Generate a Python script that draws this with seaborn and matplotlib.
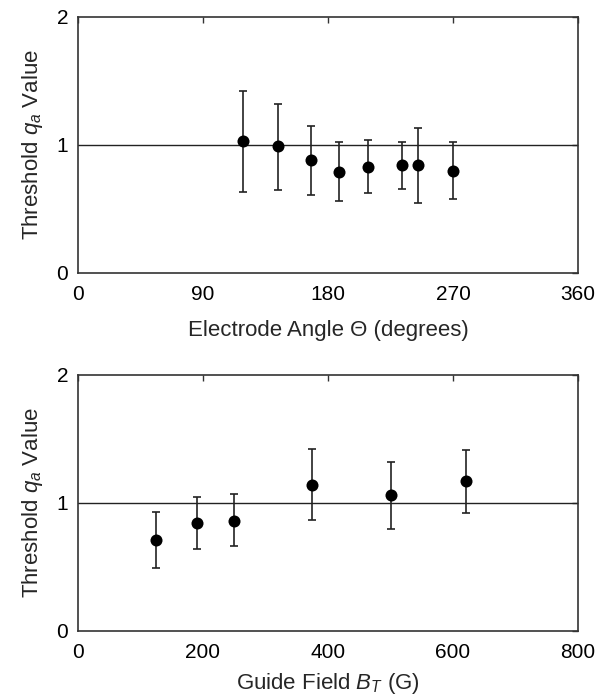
import matplotlib
matplotlib.use("Agg")
import matplotlib.pyplot as plt
import seaborn as sns
import numpy as np
import pandas as pd

# Top panel: electrode angle
angle_deg = [119, 144, 168, 188, 209, 233, 245, 270]
angle_q = [1.03, 0.99, 0.88, 0.79, 0.83, 0.84, 0.84, 0.80]
angle_err_low = [0.635, 0.651, 0.607, 0.560, 0.625, 0.659, 0.544, 0.578]
angle_err_high = [1.424, 1.320, 1.148, 1.021, 1.039, 1.026, 1.135, 1.021]

# Bottom panel: guide field
field_G = [125, 190, 250, 375, 500, 620]
field_q = [0.71, 0.84, 0.86, 1.14, 1.06, 1.17]
field_err_low = [0.490, 0.641, 0.664, 0.865, 0.794, 0.924]
field_err_high = [0.930, 1.047, 1.068, 1.419, 1.323, 1.414]

angle_ticks = [0, 90, 180, 270, 360]
field_ticks = [0, 200, 400, 600, 800]
y_ticks = [0, 1, 2]

sns.set_theme(style="white")
plt.rcParams['font.family'] = ['Liberation Sans', 'DejaVu Sans']
plt.rcParams['mathtext.fontset'] = 'custom'
plt.rcParams['mathtext.rm'] = 'Liberation Sans'
plt.rcParams['mathtext.it'] = 'Liberation Sans:italic'

fig = plt.figure(figsize=(6.07, 6.99), dpi=100)
W, H = 607, 699
ax1 = fig.add_axes([78 / W, 1 - 273 / H, 500 / W, 256 / H])
ax2 = fig.add_axes([78 / W, 1 - 631 / H, 500 / W, 256 / H])

def panel(ax, x, y, lo, hi, xticks, xlabel, xlabelpad):
    df = pd.DataFrame({"x": x, "y": y})
    ax.axhline(1, color="#222222", lw=1.0, zorder=1)
    yerr = np.array([np.array(y) - np.array(lo), np.array(hi) - np.array(y)])
    ax.errorbar(x, y, yerr=yerr, fmt="none", ecolor="#222222", elinewidth=1.2,
                capsize=3, capthick=1.2, zorder=2)
    sns.scatterplot(data=df, x="x", y="y", ax=ax, color="black", s=75,
                    edgecolor="black", linewidth=0, zorder=3, legend=False)
    ax.set_xlim(xticks[0], xticks[-1])
    ax.set_ylim(0, 2)
    ax.set_xticks(xticks)
    ax.set_yticks(y_ticks)
    ax.tick_params(direction="in", top=True, right=True, length=4, width=1,
                   color="#333333", labelsize=15, labelcolor="black")
    ax.tick_params(axis="x", pad=9)
    ax.tick_params(axis="y", pad=7)
    for s in ax.spines.values():
        s.set_color("#333333")
        s.set_linewidth(1.2)
    ax.set_xlabel(xlabel, fontsize=16, labelpad=xlabelpad)
    ax.set_ylabel("Threshold $q_a$ Value", fontsize=16, labelpad=8)

panel(ax1, angle_deg, angle_q, angle_err_low, angle_err_high, angle_ticks,
      "Electrode Angle Θ (degrees)", 11)
panel(ax2, field_G, field_q, field_err_low, field_err_high, field_ticks,
      "Guide Field $B_T$ (G)", 6)

fig.savefig("out.png", dpi=100)
